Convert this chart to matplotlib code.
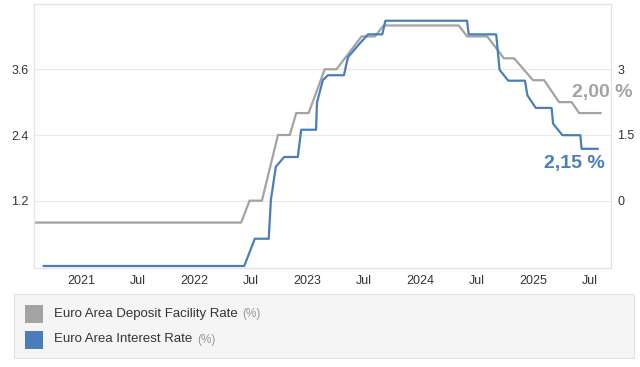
import matplotlib
matplotlib.use('Agg')
import matplotlib.pyplot as plt
import pandas as pd
from matplotlib.patches import Rectangle

# ---------------- data ----------------
deposit_dates = ['2020-08-01', '2022-06-01', '2022-06-28', '2022-08-07', '2022-09-28',
                 '2022-11-05', '2022-11-26', '2023-01-05', '2023-02-26', '2023-04-05',
                 '2023-06-25', '2023-08-07', '2023-09-04', '2024-05-04', '2024-05-31',
                 '2024-08-04', '2024-09-27', '2024-10-30', '2024-12-30', '2025-02-04',
                 '2025-03-24', '2025-05-04', '2025-05-28', '2025-08-05']
deposit_values = [-0.5, -0.5, 0.0, 0.0, 1.5,
                  1.5, 2.0, 2.0, 3.0, 3.0,
                  3.75, 3.75, 4.0, 4.0, 3.75,
                  3.75, 3.25, 3.25, 2.75, 2.75,
                  2.25, 2.25, 2.0, 2.0]

interest_dates = ['2020-09-01', '2022-06-11', '2022-07-15', '2022-08-29', '2022-09-05',
                  '2022-09-21', '2022-10-18', '2022-12-01', '2022-12-12', '2023-01-29',
                  '2023-02-01', '2023-02-20', '2023-03-08', '2023-04-29', '2023-05-12',
                  '2023-06-14', '2023-07-16', '2023-08-31', '2023-09-10', '2024-05-31',
                  '2024-06-05', '2024-09-02', '2024-09-13', '2024-10-11', '2024-12-04',
                  '2024-12-12', '2025-01-08', '2025-02-28', '2025-03-05', '2025-04-04',
                  '2025-06-01', '2025-06-05', '2025-07-27']
interest_values = [0.0, 0.0, 0.5, 0.5, 1.21,
                   1.82, 2.0, 2.0, 2.5, 2.5,
                   3.0, 3.41, 3.5, 3.5, 3.83,
                   4.05, 4.25, 4.25, 4.5, 4.5,
                   4.25, 4.25, 3.6, 3.4, 3.4,
                   3.13, 2.9, 2.9, 2.61, 2.4,
                   2.4, 2.15, 2.15]

x_tick_dates = ['2021-01-01', '2021-07-01', '2022-01-01', '2022-07-01', '2023-01-01',
                '2023-07-01', '2024-01-01', '2024-07-01', '2025-01-01', '2025-07-01']
x_tick_labels = ['2021', 'Jul', '2022', 'Jul', '2023', 'Jul', '2024', 'Jul', '2025', 'Jul']
left_ticks = [1.2, 2.4, 3.6]
left_tick_labels = ['1.2', '2.4', '3.6']
right_ticks = [0, 1.5, 3]
right_tick_labels = ['0', '1.5', '3']
series_names = ['Euro Area Deposit Facility Rate', 'Euro Area Interest Rate']
unit_label = '(%)'
last_labels = ['2,00 %', '2,15 %']

# ---------------- style ----------------
GREY = '#a3a3a3'
BLUE = '#4a7ebb'
GRID = '#e9e9e9'
TXT = '#333333'
plt.rcParams['font.family'] = ['Liberation Sans', 'DejaVu Sans']

W, H = 640, 367
fig = plt.figure(figsize=(W / 100, H / 100), dpi=100)
fig.patch.set_facecolor('white')

left_px, right_px, top_px, bottom_px = 33.5, 611, 4, 268
ax = fig.add_axes([left_px / W, 1 - bottom_px / H,
                   (right_px - left_px) / W, (bottom_px - top_px) / H])
ax2 = ax.twinx()

dep_x = pd.to_datetime(deposit_dates)
int_x = pd.to_datetime(interest_dates)

ax2.plot(dep_x, deposit_values, color=GREY, lw=1.6, solid_joinstyle='round')
ax.plot(int_x, interest_values, color=BLUE, lw=1.6, solid_joinstyle='round')
ax.set_zorder(ax2.get_zorder() + 1)
ax.patch.set_visible(False)

ax.set_xlim(pd.Timestamp('2020-07-30'), pd.Timestamp('2025-09-08'))
ax.set_ylim(-0.037, 4.807)
ax2.set_ylim(-1.537, 4.49)

ax.set_xticks(pd.to_datetime(x_tick_dates))
ax.set_xticklabels(x_tick_labels)
ax.set_yticks(left_ticks)
ax.set_yticklabels(left_tick_labels)
ax2.set_yticks(right_ticks)
ax2.set_yticklabels(right_tick_labels)

for a in (ax, ax2):
    a.tick_params(length=0, labelsize=9, colors=TXT)
    for s in a.spines.values():
        s.set_color('#e3e3e3')
        s.set_linewidth(0.8)
ax.tick_params(axis='x', pad=5)
ax.tick_params(axis='y', pad=3.5)
ax2.tick_params(axis='y', pad=4.5)

ax2.grid(True, axis='both', color=GRID, lw=0.8)
ax2.set_axisbelow(True)

# end-of-line value labels
ax2.annotate(last_labels[0], xy=(dep_x[-1], deposit_values[-1]), xytext=(2, 21),
             textcoords='offset pixels', ha='center', va='center',
             fontsize=14, fontweight='bold', color=GREY, annotation_clip=False)
ax.annotate(last_labels[1], xy=(int_x[-1], interest_values[-1]), xytext=(-23, -15),
            textcoords='offset pixels', ha='center', va='center',
            fontsize=14, fontweight='bold', color=BLUE, annotation_clip=False)

# ---------------- legend panel ----------------
def fx(px):
    return px / W

def fy(py):
    return 1 - py / H

box = Rectangle((fx(13.5), fy(357.5)), fx(634) - fx(13.5), fy(293.5) - fy(357.5),
                transform=fig.transFigure, facecolor='#f5f5f5', edgecolor='#e2e2e2', lw=0.8)
fig.add_artist(box)
for i, (name, col) in enumerate(zip(series_names, [GREY, BLUE])):
    yc = 313.5 + i * 26
    sq = Rectangle((fx(24.5), fy(yc + 9)), fx(18), 18 / H, transform=fig.transFigure,
                   facecolor=col, edgecolor='none')
    fig.add_artist(sq)
    t = fig.text(fx(54.5), fy(yc), name, fontsize=9.5, color=TXT, va='center', ha='left')
    fig.canvas.draw()
    bb = t.get_window_extent()
    fig.text((bb.x1 + 4) / W, fy(yc), unit_label, fontsize=8.5, color='#999999',
             va='center', ha='left')

fig.savefig('out.png', dpi=100, facecolor='white')
